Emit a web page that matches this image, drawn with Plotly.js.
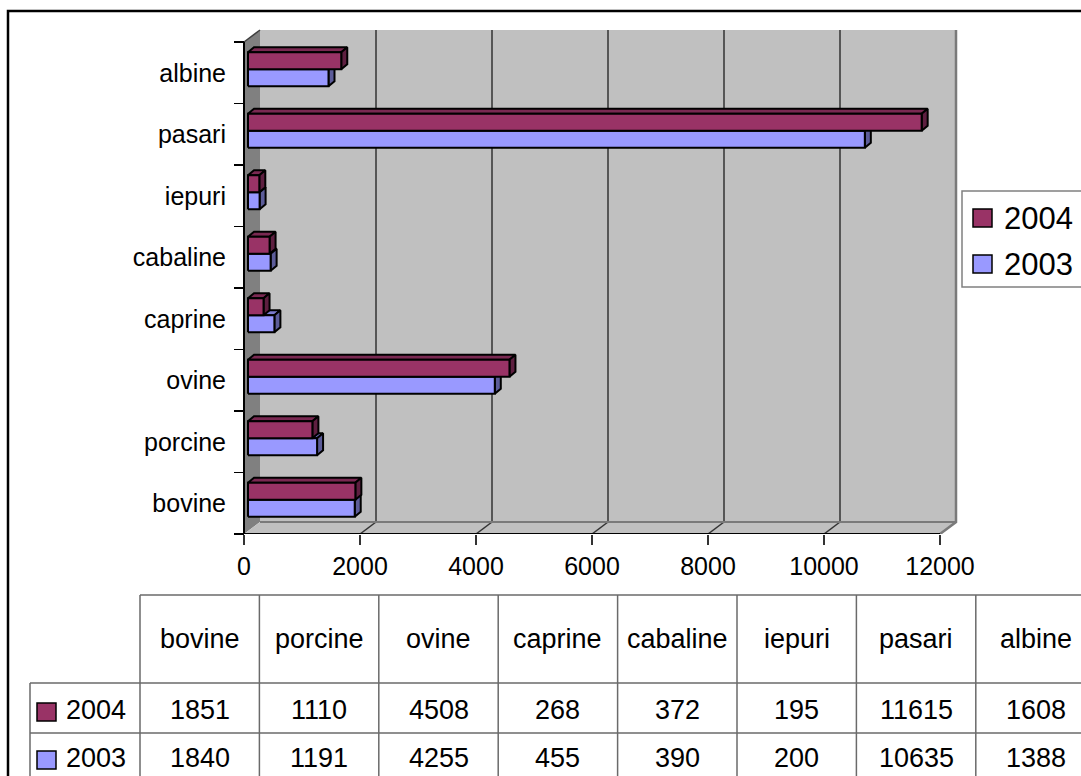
<!DOCTYPE html>
<html>
<head>
<meta charset="utf-8">
<script src="https://cdn.plot.ly/plotly-3.0.1.min.js"></script>
<style>html,body{margin:0;padding:0;background:#fff;}#chart{width:1081px;height:776px;}</style>
</head>
<body>
<div id="chart"></div>
<script>
// ---- data ----
const categories = ["bovine", "porcine", "ovine", "caprine", "cabaline", "iepuri", "pasari", "albine"];
const values2004 = [1851, 1110, 4508, 268, 372, 195, 11615, 1608];
const values2003 = [1840, 1191, 4255, 455, 390, 200, 10635, 1388];
const seriesNames = ["2004", "2003"];
const xTicks = [0, 2000, 4000, 6000, 8000, 10000, 12000];

// ---- geometry / style ----
const W = 1081, H = 776;
const X0PX = 244, X1PX = 940, XMAX = 12000;
const kx = (X1PX - X0PX) / XMAX;            // px per unit
const yBottomPx = 534, yTopPx = 42;
const nCat = categories.length;
const ky = (yBottomPx - yTopPx) / nCat;      // px per category
const xr = [-X0PX / kx, (W - X0PX) / kx];
const yDomain0 = (H - yBottomPx) / H;
const yr = [0, yBottomPx / ky];
const px = x => x / W, py = y => 1 - y / H;

const DX = 16 / kx, DY = 12 / ky;            // wall depth
const fx = 4 / kx, fy = 3.5 / ky;            // bar front offset
const bx = 6 / kx, by = 5 / ky;              // bar depth
const hb = 17 / ky;                          // bar thickness

const col2004 = {front: "#993366", top: "#7a2952", right: "#5e1f40"};
const col2003 = {front: "#9999ff", top: "#7a7acc", right: "#5c5c99"};

const traces = [];
function poly(xs, ys, fill, lineColor, lw) {
  traces.push({type: "scatter", mode: "lines", x: xs, y: ys, fill: "toself", fillcolor: fill,
    line: {color: lineColor, width: lw}, hoverinfo: "skip", showlegend: false});
}
function seg(xs, ys, color, w) {
  traces.push({type: "scatter", mode: "lines", x: xs, y: ys,
    line: {color: color, width: w}, hoverinfo: "skip", showlegend: false});
}

// walls
poly([0, DX, DX, 0, 0], [0, DY, nCat + DY, nCat, 0], "#808080", "rgba(0,0,0,0)", 0);
poly([0, XMAX, XMAX + DX, DX, 0], [0, 0, DY, DY, 0], "#c0c0c0", "rgba(0,0,0,0)", 0);
poly([DX, XMAX + DX, XMAX + DX, DX, DX], [DY, DY, nCat + DY, nCat + DY, DY], "#c0c0c0", "rgba(0,0,0,0)", 0);

// gridlines on back wall and floor
(function(){
  const gx = [], gy = [], fxs = [], fys = [];
  xTicks.forEach(t => {
    if (t > 0 && t < XMAX) { gx.push(t + DX, t + DX, null); gy.push(DY, nCat + DY, null); }
    if (t > 0 && t < XMAX) { fxs.push(t, t + DX, null); fys.push(0, DY, null); }
  });
  seg(gx, gy, "#333333", 1.5);
  seg(fxs, fys, "#333333", 1.5);
})();
seg([DX, XMAX + DX], [DY, DY], "#7a7a7a", 2);
seg([XMAX, XMAX + DX, XMAX + DX], [0, DY, nCat + DY], "#7a7a7a", 2.5);
seg([0, DX], [nCat, nCat + DY], "#404040", 1.5);

// bars
function boxes(vals, upper, col) {
  const F = {x: [], y: []}, T = {x: [], y: []}, R = {x: [], y: []};
  vals.forEach((v, i) => {
    const c = i + 0.5 + fy;
    const y0 = upper ? c : c - hb, y1 = upper ? c + hb : c;
    const xa = fx, xb = fx + v;
    F.x.push(xa, xb, xb, xa, xa, null); F.y.push(y0, y0, y1, y1, y0, null);
    T.x.push(xa, xb, xb + bx, xa + bx, xa, null); T.y.push(y1, y1, y1 + by, y1 + by, y1, null);
    R.x.push(xb, xb + bx, xb + bx, xb, xb, null); R.y.push(y0, y0 + by, y1 + by, y1, y0, null);
  });
  poly(T.x, T.y, col.top, "#000", 2);
  poly(R.x, R.y, col.right, "#000", 2);
  poly(F.x, F.y, col.front, "#000", 2);
}
boxes(values2003, false, col2003);
boxes(values2004, true, col2004);

// axis lines
seg([0, 0], [0, nCat], "#000", 2);
seg([0, XMAX], [0, 0], "#000", 2);

// dummy for overlay axis
traces.push({type: "scatter", x: [null], y: [null], yaxis: "y2", hoverinfo: "skip", showlegend: false});

// ---- shapes & annotations: legend, table, border ----
const shapes = [], annotations = [];
const FONT = "Liberation Sans, Arial, sans-serif";
shapes.push({type: "rect", xref: "paper", yref: "paper", x0: px(8), x1: px(1095), y0: py(11), y1: py(800),
  line: {color: "#000", width: 2.5}, fillcolor: "rgba(0,0,0,0)", layer: "above"});

// legend
shapes.push({type: "rect", xref: "paper", yref: "paper", x0: px(962), x1: px(1095), y0: py(191), y1: py(287),
  line: {color: "#808080", width: 1.5}, fillcolor: "#fff"});
const legendRows = [{name: seriesNames[0], c: col2004.front, y: 218}, {name: seriesNames[1], c: col2003.front, y: 264}];
legendRows.forEach(r => {
  shapes.push({type: "rect", xref: "paper", yref: "paper", x0: px(973), x1: px(992), y0: py(r.y - 9), y1: py(r.y + 9),
    line: {color: "#000", width: 1.5}, fillcolor: r.c});
  annotations.push({xref: "paper", yref: "paper", x: px(1002), y: py(r.y), xanchor: "left", yanchor: "middle",
    text: r.name, showarrow: false, font: {family: FONT, size: 31, color: "#000"}});
});

// table
const colW = 119.4, tblX0 = 140;
const gridC = "#6a6a6a";
const rowTop = 595, row1 = 683, row2 = 733, tblBottom = 800;
function hline(x0, x1, y) {
  shapes.push({type: "line", xref: "paper", yref: "paper", x0: px(x0), x1: px(x1), y0: py(y), y1: py(y), line: {color: gridC, width: 1.5}});
}
function vline(x, y0, y1) {
  shapes.push({type: "line", xref: "paper", yref: "paper", x0: px(x), x1: px(x), y0: py(y0), y1: py(y1), line: {color: gridC, width: 1.5}});
}
hline(tblX0, 1095, rowTop);
hline(30, 1095, row1);
hline(30, 1095, row2);
vline(30, row1, tblBottom);
for (let j = 0; j <= nCat; j++) vline(tblX0 + colW * j, rowTop, tblBottom);
categories.forEach((c, j) => {
  const cx = px(tblX0 + colW * (j + 0.5));
  annotations.push({xref: "paper", yref: "paper", x: cx, y: py(639), xanchor: "center", yanchor: "middle",
    text: c, showarrow: false, font: {family: FONT, size: 27, color: "#000"}});
  annotations.push({xref: "paper", yref: "paper", x: cx, y: py(710), xanchor: "center", yanchor: "middle",
    text: String(values2004[j]), showarrow: false, font: {family: FONT, size: 27, color: "#000"}});
  annotations.push({xref: "paper", yref: "paper", x: cx, y: py(758), xanchor: "center", yanchor: "middle",
    text: String(values2003[j]), showarrow: false, font: {family: FONT, size: 27, color: "#000"}});
});
[{name: seriesNames[0], c: col2004.front, y: 712}, {name: seriesNames[1], c: col2003.front, y: 760}].forEach(r => {
  shapes.push({type: "rect", xref: "paper", yref: "paper", x0: px(37), x1: px(56), y0: py(r.y - 9), y1: py(r.y + 9),
    line: {color: "#000", width: 1.5}, fillcolor: r.c});
  annotations.push({xref: "paper", yref: "paper", x: px(64), y: py(r.y - 2), xanchor: "left", yanchor: "middle",
    text: r.name, showarrow: false, font: {family: FONT, size: 27, color: "#000"}});
});

const layout = {
  width: W, height: H,
  margin: {l: 0, r: 0, t: 0, b: 0, pad: 0},
  paper_bgcolor: "#fff", plot_bgcolor: "rgba(0,0,0,0)",
  showlegend: false, hovermode: false,
  font: {family: FONT, color: "#000"},
  xaxis: {domain: [0, 1], range: xr, anchor: "y", showgrid: false, zeroline: false, showline: false,
    tickmode: "array", tickvals: xTicks, ticktext: xTicks.map(String),
    ticks: "outside", ticklen: 10, tickwidth: 1.5, tickcolor: "#333", tickfont: {family: FONT, size: 25, color: "#000"}},
  yaxis: {domain: [yDomain0, 1], range: yr, anchor: "free", position: px(X0PX), showgrid: false, zeroline: false, showline: false,
    tickmode: "array", tickvals: categories.map((c, i) => i + 0.5), ticktext: categories,
    ticks: "outside", ticklen: 13, tickcolor: "rgba(0,0,0,0)", tickfont: {family: FONT, size: 25, color: "#000"}},
  yaxis2: {overlaying: "y", range: yr, anchor: "free", position: px(X0PX), showgrid: false, zeroline: false, showline: false,
    tickmode: "array", tickvals: categories.map((c, i) => i).concat([nCat]), showticklabels: false,
    ticks: "outside", ticklen: 10, tickwidth: 1.5, tickcolor: "#000"},
  shapes: shapes, annotations: annotations
};
Plotly.newPlot("chart", traces, layout, {staticPlot: true, displayModeBar: false});
</script>
</body>
</html>
